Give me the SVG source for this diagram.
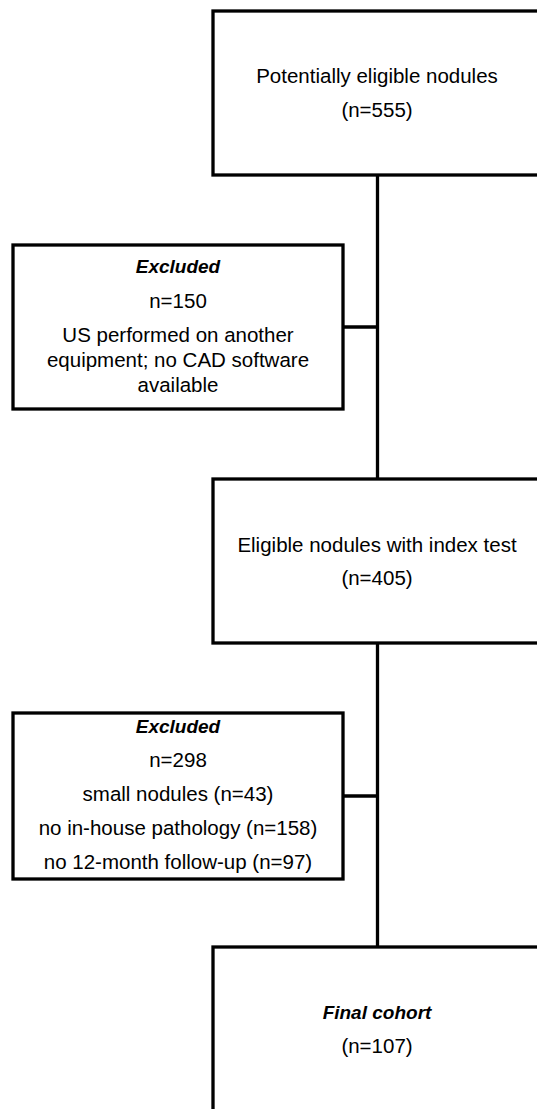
<svg xmlns="http://www.w3.org/2000/svg" width="537" height="1109" viewBox="0 0 537 1109">
<style>
.box{fill:#fff;stroke:#000;stroke-width:3.3}
.ln{fill:none;stroke:#000;stroke-width:3.3}
text{font-family:"Liberation Sans",Arial,sans-serif;font-size:20.5px;fill:#000;text-anchor:middle}
.bi{font-weight:bold;font-style:italic;font-size:19px}
</style>
<rect width="537" height="1109" fill="#fff"/>
<g id="connectors">
<line class="ln" x1="377.5" y1="175" x2="377.5" y2="479"/>
<line class="ln" x1="343" y1="327" x2="377.5" y2="327"/>
<line class="ln" x1="377.5" y1="643" x2="377.5" y2="947"/>
<line class="ln" x1="343" y1="796" x2="377.5" y2="796"/>
</g>
<g id="potentially-eligible">
<rect class="box" x="213" y="11" width="334" height="164"/>
<text x="377" y="83">Potentially eligible nodules</text>
<text x="377" y="117">(n=555)</text>
</g>
<g id="excluded-1">
<rect class="box" x="13" y="245" width="330" height="164"/>
<text class="bi" x="178" y="273">Excluded</text>
<text x="178" y="308">n=150</text>
<text x="178" y="342">US performed on another</text>
<text x="178" y="367">equipment; no CAD software</text>
<text x="178" y="392">available</text>
</g>
<g id="eligible-index">
<rect class="box" x="213" y="479" width="334" height="164"/>
<text x="377" y="552">Eligible nodules with index test</text>
<text x="377" y="585">(n=405)</text>
</g>
<g id="excluded-2">
<rect class="box" x="13" y="713" width="330" height="166"/>
<text class="bi" x="178" y="733">Excluded</text>
<text x="178" y="767">n=298</text>
<text x="178" y="801">small nodules (n=43)</text>
<text x="178" y="835">no in-house pathology (n=158)</text>
<text x="178" y="869">no 12-month follow-up (n=97)</text>
</g>
<g id="final-cohort">
<rect class="box" x="213" y="947" width="334" height="180"/>
<text class="bi" x="377" y="1019">Final cohort</text>
<text x="377" y="1053">(n=107)</text>
</g>
</svg>
